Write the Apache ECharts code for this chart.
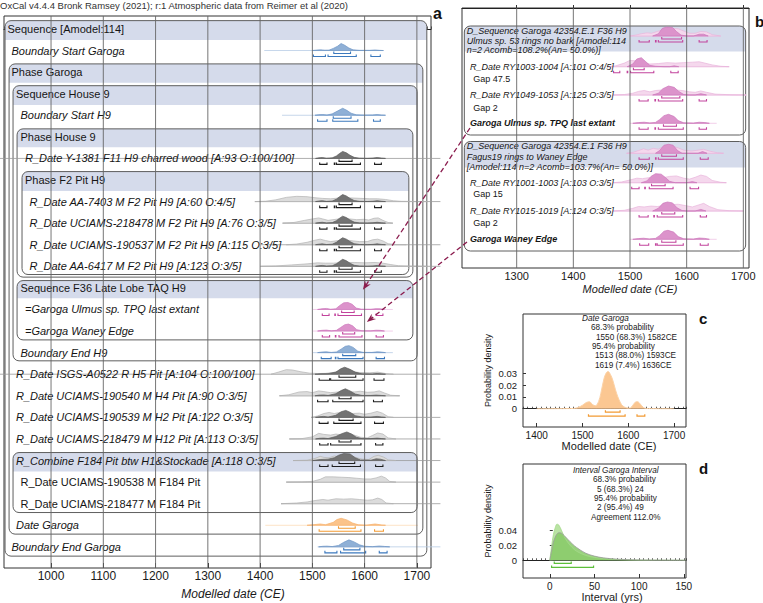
<!DOCTYPE html>
<html><head><meta charset="utf-8">
<script src="https://cdn.jsdelivr.net/npm/echarts@6/dist/echarts.min.js"></script>
<style>html,body{margin:0;padding:0;background:#fff}#c{width:763px;height:603px}</style>
</head><body><div id="c"></div>
<script>
// ================= DATA =================
const headerText = 'OxCal v4.4.4 Bronk Ramsey (2021); r:1 Atmospheric data from Reimer et al (2020)';
const aTicks = [1000, 1100, 1200, 1300, 1400, 1500, 1600, 1700];
const bTicks = [1300, 1400, 1500, 1600, 1700];
const cTicks = [1400, 1500, 1600, 1700];
const cYTicks = [0, 0.01, 0.02, 0.03];
const dTicks = [0, 50, 100, 150];
const dYTicks = [0, 0.02, 0.04];

// ---- panel a rows ----
const aLabels = [
  'Sequence [Amodel:114]', 'Boundary Start Garoga', 'Phase Garoga', 'Sequence House 9', 'Boundary Start H9',
  'Phase House 9', 'R_Date Y-1381 F11 H9 charred wood [A:93 O:100/100]', 'Phase F2 Pit H9',
  'R_Date AA-7403 M F2 Pit H9 [A:60 O:4/5]', 'R_Date UCIAMS-218478 M F2 Pit H9 [A:76 O:3/5]',
  'R_Date UCIAMS-190537 M F2 Pit H9 [A:115 O:3/5]', 'R_Date AA-6417 M F2 Pit H9 [A:123 O:3/5]',
  'Sequence F36 Late Lobe TAQ H9', '=Garoga Ulmus sp. TPQ last extant', '=Garoga Waney Edge', 'Boundary End H9',
  'R_Date ISGS-A0522 R H5 Pit [A:104 O:100/100]', 'R_Date UCIAMS-190540 M H4 Pit [A:90 O:3/5]',
  'R_Date UCIAMS-190539 M H2 Pit [A:122 O:3/5]', 'R_Date UCIAMS-218479 M H12 Pit [A:113 O:3/5]',
  'R_Combine F184 Pit btw H1&Stockade [A:118 O:3/5]', 'R_Date UCIAMS-190538 M F184 Pit',
  'R_Date UCIAMS-218477 M F184 Pit', 'Date Garoga', 'Boundary End Garoga'
];
const aTheme = [null, 'blue', null, null, 'blue', null, 'gray', null, 'gray', 'gray', 'gray', 'gray', null, 'pink', 'pink', 'blue',
  'gray', 'gray', 'gray', 'gray', 'gray', 'gray', 'gray', 'orange', 'blue'];
const aBase = [null, [1408, 1636], null, null, [1442, 1640], null, [902, 1745], null, [1390, 1745], [1443, 1654], [1402, 1745],
  [1402, 1745], null, [1501, 1654], [1501, 1654], [1501, 1654], [902, 1745], [1437, 1667], [1498, 1745], [1456, 1745],
  [1463, 1745], [1450, 1745], [1440, 1745], [1410, 1702], [1510, 1745]];

const postH9 = [[1506,0],[1512,0.08],[1519,0.13],[1527,0.03],[1538,0.08],[1546,0.35],[1552,0.7],[1558,1],[1565,0.8],[1572,0.45],[1580,0.15],[1590,0.04],[1605,0.01],[1616,0.05],[1624,0.13],[1632,0.05],[1640,0]];
const aPost = [
  null,
  [[1500,0],[1508,0.06],[1516,0.1],[1524,0.05],[1532,0.06],[1540,0.3],[1548,0.6],[1555,1],[1562,0.75],[1570,0.35],[1578,0.1],[1590,0.03],[1610,0.03],[1620,0.08],[1628,0.03],[1636,0]],
  null, null,
  [[1505,0],[1512,0.08],[1520,0.1],[1528,0.04],[1538,0.2],[1548,0.6],[1558,1],[1566,0.7],[1574,0.3],[1584,0.06],[1600,0.02],[1615,0.04],[1624,0.1],[1632,0.03],[1640,0]],
  null, postH9, null, postH9, postH9, postH9, postH9, null,
  [[1510,0],[1518,0.1],[1527,0.15],[1535,0.03],[1545,0.1],[1552,0.55],[1560,0.95],[1568,1],[1576,0.75],[1584,0.2],[1594,0.04],[1612,0.03],[1622,0.12],[1630,0.1],[1638,0]],
  [[1510,0],[1518,0.1],[1527,0.14],[1536,0.03],[1546,0.1],[1554,0.5],[1562,0.9],[1569,1],[1577,0.75],[1585,0.2],[1595,0.04],[1612,0.03],[1622,0.12],[1630,0.1],[1638,0]],
  [[1510,0],[1518,0.08],[1527,0.12],[1536,0.03],[1546,0.1],[1555,0.5],[1563,0.9],[1570,1],[1578,0.75],[1587,0.2],[1597,0.04],[1614,0.03],[1624,0.12],[1632,0.08],[1640,0]],
  [[1505,0],[1515,0.05],[1530,0.08],[1545,0.3],[1555,0.8],[1562,1],[1572,0.7],[1582,0.3],[1595,0.05],[1615,0.03],[1624,0.1],[1632,0.05],[1640,0]],
  [[1505,0],[1513,0.1],[1522,0.12],[1530,0.05],[1545,0.3],[1555,0.75],[1563,1],[1572,0.7],[1582,0.25],[1595,0.05],[1612,0.05],[1622,0.1],[1632,0.05],[1640,0]],
  [[1506,0],[1514,0.1],[1522,0.14],[1530,0.05],[1545,0.3],[1555,0.8],[1564,1],[1573,0.7],[1582,0.25],[1595,0.05],[1612,0.05],[1624,0.14],[1632,0.06],[1640,0]],
  [[1506,0],[1514,0.1],[1522,0.12],[1530,0.06],[1545,0.35],[1556,0.75],[1566,1],[1575,0.7],[1584,0.25],[1595,0.05],[1612,0.05],[1624,0.12],[1632,0.06],[1640,0]],
  [[1500,0],[1515,0.15],[1530,0.2],[1542,0.4],[1550,0.75],[1560,1],[1572,0.95],[1582,0.4],[1592,0.08],[1612,0.05],[1622,0.25],[1630,0.2],[1640,0]],
  null, null,
  [[1490,0],[1505,0.1],[1515,0.19],[1525,0.08],[1540,0.42],[1547,0.82],[1555,1],[1566,0.77],[1577,0.32],[1588,0.07],[1603,0.01],[1612,0.1],[1620,0.19],[1633,0.03],[1640,0]],
  [[1512,0],[1520,0.08],[1528,0.1],[1538,0.04],[1550,0.2],[1560,0.65],[1570,1],[1580,0.7],[1590,0.3],[1600,0.08],[1615,0.03],[1628,0.12],[1638,0.06],[1648,0]]
];
const aPrior = [
  null, null, null, null, null, null, null, null,
  [[1390,0],[1410,0.05],[1430,0.25],[1450,0.6],[1470,0.75],[1490,0.7],[1505,0.55],[1520,0.45],[1535,0.4],[1550,0.5],[1565,0.55],[1580,0.5],[1595,0.45],[1610,0.4],[1625,0.4],[1640,0.3],[1655,0.12],[1670,0.04],[1700,0.01],[1720,0]],
  [[1443,0],[1465,0.1],[1485,0.4],[1500,0.6],[1512,0.75],[1520,0.6],[1530,0.4],[1545,0.55],[1560,0.7],[1572,0.6],[1585,0.5],[1598,0.55],[1608,0.45],[1618,0.7],[1626,0.75],[1635,0.4],[1645,0.1],[1654,0]],
  [[1450,0],[1470,0.1],[1490,0.35],[1505,0.65],[1515,0.8],[1525,0.6],[1535,0.45],[1550,0.6],[1562,0.7],[1578,0.55],[1590,0.45],[1605,0.45],[1615,0.7],[1625,0.8],[1635,0.55],[1645,0.15],[1660,0.02],[1680,0]],
  [[1400,0],[1430,0.05],[1460,0.2],[1490,0.35],[1510,0.5],[1525,0.45],[1540,0.45],[1560,0.55],[1580,0.55],[1600,0.5],[1620,0.55],[1635,0.45],[1650,0.25],[1665,0.08],[1690,0.02],[1720,0]],
  null, null, null, null,
  [[1421,0],[1435,0.3],[1450,0.65],[1462,0.6],[1478,0.35],[1495,0.15],[1510,0.1],[1525,0.12],[1540,0.25],[1555,0.45],[1570,0.4],[1590,0.25],[1610,0.2],[1625,0.3],[1640,0.1],[1655,0]],
  [[1437,0],[1455,0.15],[1475,0.55],[1490,0.6],[1500,0.45],[1512,0.7],[1522,0.6],[1535,0.45],[1550,0.55],[1565,0.6],[1580,0.55],[1592,0.65],[1605,0.5],[1618,0.55],[1628,0.7],[1638,0.4],[1650,0.08],[1667,0]],
  [[1498,0],[1510,0.2],[1522,0.55],[1532,0.7],[1542,0.55],[1552,0.7],[1562,0.65],[1575,0.55],[1590,0.6],[1600,0.45],[1612,0.6],[1624,0.85],[1634,0.6],[1645,0.1],[1655,0]],
  [[1456,0],[1480,0.05],[1500,0.3],[1512,0.8],[1522,0.65],[1535,0.55],[1545,0.7],[1555,0.6],[1570,0.8],[1582,0.5],[1592,0.25],[1605,0.15],[1615,0.5],[1625,0.85],[1635,0.7],[1645,0.15],[1660,0]],
  [[1463,0],[1490,0.05],[1505,0.3],[1515,0.6],[1522,0.45],[1532,0.4],[1542,0.65],[1552,0.55],[1565,0.8],[1580,0.5],[1595,0.2],[1608,0.15],[1618,0.6],[1626,0.75],[1636,0.5],[1645,0.1],[1660,0]],
  [[1450,0],[1480,0.03],[1500,0.1],[1515,0.4],[1525,0.75],[1540,0.75],[1555,0.7],[1570,0.65],[1585,0.55],[1600,0.45],[1612,0.45],[1622,0.6],[1632,0.85],[1640,0.6],[1648,0.1],[1660,0]],
  [[1440,0],[1470,0.1],[1490,0.25],[1505,0.45],[1520,0.6],[1530,0.5],[1545,0.7],[1560,0.65],[1575,0.7],[1590,0.6],[1605,0.5],[1615,0.55],[1625,0.8],[1633,0.6],[1641,0.1],[1655,0]],
  null, null
];
const r68H9 = [[1551, 1576]];
const r95H9 = [[1514, 1528], [1542, 1543], [1546, 1592], [1619, 1632]];
const aR68 = [null, [[1541,1573]], null, null, [[1540,1574]], null, r68H9, null, r68H9, r68H9, r68H9, r68H9, null,
  [[1556,1580]], [[1558,1581]], [[1558,1583]], [[1551,1583]], [[1551,1574]], [[1551,1578]], [[1551,1574]], [[1551,1581]],
  null, null, [[1550,1582]], [[1560,1591]]];
const aR95 = [null, [[1502,1525],[1530,1584],[1612,1630]], null, null, [[1510,1528],[1539,1587],[1617,1630]], null,
  r95H9, null, r95H9, r95H9, r95H9, r95H9, null,
  [[1519,1532],[1543,1544],[1549,1594],[1622,1635]],
  [[1519,1533],[1544,1545],[1551,1595],[1622,1636]],
  [[1517,1536],[1544,1545],[1549,1597],[1622,1638]],
  [[1513,1533],[1535,1597],[1618,1637]],
  [[1510,1530],[1539,1597],[1617,1634]],
  [[1513,1530],[1541,1593],[1619,1636]],
  [[1514,1530],[1535,1593],[1621,1635]],
  [[1514,1530],[1538,1592],[1621,1635]],
  null, null,
  [[1513,1593],[1619,1636]],
  [[1524,1547],[1554,1602],[1628,1643]]];

// ---- panel b ----
const bLabels = ['D_Sequence Garoga 42354.E.1 F36 H9', 'Ulmus sp. 53 rings no bark [Amodel:114', 'n=2 Acomb=108.2%(An= 50.0%)]',
  'R_Date RY1003-1004 [A:101 O:4/5]', 'Gap 47.5', 'R_Date RY1049-1053 [A:125 O:3/5]', 'Gap 2', 'Garoga Ulmus sp. TPQ last extant',
  'D_Sequence Garoga 42354.E.1 F36 H9', 'Fagus19 rings to Waney Edge', '[Amodel:114 n=2 Acomb=103.7%(An= 50.0%)]',
  'R_Date RY1001-1003 [A:103 O:3/5]', 'Gap 15', 'R_Date RY1015-1019 [A:124 O:3/5]', 'Gap 2', 'Garoga Waney Edge'];
const bBase = [[1500,1660],[1460,1675],[1470,1705],[1500,1653],[1494,1665],[1470,1670],[1470,1700],[1500,1653]];
const bPrior = [
  [[1500,0],[1510,0.1],[1520,0.25],[1530,0.35],[1538,0.3],[1548,0.5],[1560,0.75],[1572,0.85],[1585,0.8],[1595,0.55],[1605,0.3],[1615,0.3],[1625,0.5],[1635,0.45],[1645,0.15],[1660,0]],
  [[1460,0],[1475,0.1],[1490,0.4],[1500,0.7],[1510,0.65],[1520,0.5],[1535,0.3],[1550,0.35],[1565,0.45],[1580,0.4],[1595,0.45],[1610,0.5],[1622,0.55],[1632,0.4],[1645,0.2],[1660,0.05],[1675,0]],
  [[1470,0],[1490,0.05],[1505,0.2],[1515,0.4],[1525,0.5],[1535,0.35],[1545,0.5],[1555,0.55],[1568,0.6],[1580,0.55],[1592,0.5],[1605,0.35],[1615,0.3],[1625,0.45],[1635,0.3],[1650,0.1],[1680,0.02],[1705,0]],
  null,
  [[1494,0],[1505,0.1],[1515,0.3],[1524,0.5],[1532,0.35],[1541,0.55],[1550,0.45],[1560,0.8],[1572,0.85],[1585,0.6],[1595,0.35],[1608,0.25],[1620,0.35],[1630,0.45],[1640,0.25],[1655,0.05],[1665,0]],
  [[1470,0],[1485,0.08],[1500,0.3],[1512,0.5],[1522,0.45],[1532,0.55],[1545,0.5],[1558,0.55],[1570,0.7],[1582,0.75],[1595,0.5],[1605,0.4],[1615,0.6],[1625,0.85],[1635,0.7],[1645,0.25],[1660,0.05],[1670,0]],
  [[1470,0],[1490,0.08],[1505,0.3],[1515,0.5],[1525,0.45],[1537,0.55],[1548,0.5],[1560,0.6],[1572,0.7],[1585,0.75],[1598,0.6],[1610,0.45],[1620,0.65],[1630,0.85],[1640,0.5],[1655,0.15],[1675,0.03],[1700,0]],
  null
];
const bPost = [
  [[1540,0],[1550,0.25],[1557,0.85],[1565,1],[1575,0.95],[1582,0.5],[1590,0.1],[1600,0],[1612,0],[1622,0.2],[1630,0.2],[1638,0]],
  [[1495,0],[1505,0.3],[1512,0.85],[1520,1],[1528,0.55],[1535,0.15],[1545,0.05],[1560,0],[1570,0],[1578,0.1],[1586,0]],
  [[1540,0],[1550,0.2],[1558,0.7],[1568,1],[1578,0.85],[1586,0.4],[1595,0.05],[1605,0],[1615,0],[1625,0.15],[1635,0]],
  [[1505,0],[1515,0.08],[1525,0.12],[1535,0.04],[1545,0.1],[1552,0.4],[1560,0.85],[1568,1],[1578,0.75],[1585,0.3],[1595,0.05],[1612,0.02],[1622,0.12],[1632,0.08],[1640,0]],
  [[1545,0],[1552,0.3],[1560,0.9],[1568,1],[1576,0.9],[1584,0.3],[1592,0],[1620,0],[1628,0.2],[1636,0]],
  [[1520,0],[1530,0.2],[1537,0.7],[1545,1],[1555,0.95],[1562,0.6],[1570,0.15],[1580,0],[1600,0],[1610,0.12],[1618,0]],
  [[1540,0],[1550,0.3],[1558,0.85],[1566,1],[1575,0.9],[1583,0.35],[1592,0.05],[1600,0],[1615,0],[1625,0.18],[1634,0]],
  [[1505,0],[1515,0.08],[1524,0.12],[1534,0.04],[1545,0.1],[1552,0.4],[1560,0.9],[1567,1],[1577,0.8],[1585,0.3],[1595,0.05],[1612,0.02],[1622,0.14],[1632,0.1],[1640,0]]
];
const bR68 = [[[1556,1591]], [[1506,1525]], [[1556,1588]], [[1559,1582]], [[1556,1582]], [[1538,1562]], [[1556,1579]], [[1556,1581]]];
const bR95 = [
  [[1516,1534],[1545,1546],[1550,1593],[1622,1636]],
  [[1471,1482],[1495,1496],[1501,1542],[1572,1585]],
  [[1516,1532],[1544,1545],[1550,1593],[1622,1635]],
  [[1516,1532],[1544,1545],[1550,1594],[1622,1635]],
  [[1516,1534],[1545,1546],[1550,1594],[1624,1638]],
  [[1503,1516],[1526,1527],[1534,1576],[1606,1621]],
  [[1516,1532],[1542,1543],[1548,1593],[1624,1635]],
  [[1517,1533],[1545,1546],[1548,1594],[1624,1638]]
];

// ---- panel c ----
const cDensity = [[1400,0],[1480,0.0002],[1490,0.001],[1500,0.003],[1508,0.0052],[1515,0.0059],[1522,0.0035],[1528,0.0025],[1535,0.006],[1540,0.013],[1547,0.0257],[1552,0.0305],[1556,0.0315],[1561,0.029],[1566,0.0243],[1572,0.016],[1577,0.0102],[1583,0.005],[1588,0.0023],[1596,0.0008],[1603,0.0005],[1610,0.003],[1615,0.0055],[1620,0.006],[1626,0.004],[1633,0.001],[1640,0.0002],[1700,0]];
const c68 = [[1550, 1582]];
const c95 = [[1513, 1593], [1619, 1636]];
const cSummary = ['Date Garoga', '68.3% probability', '1550 (68.3%) 1582CE', '95.4% probability', '1513 (88.0%) 1593CE', '1619 (7.4%) 1636CE'];

// ---- panel d ----
const dPrior = [[0,0],[2,0.018],[4,0.034],[6,0.043],[8,0.048],[10,0.047],[13,0.04],[16,0.032],[20,0.024],[25,0.017],[30,0.012],[40,0.0065],[50,0.0038],[60,0.0022],[75,0.001],[100,0.0003],[125,0.0001],[152,0]];
const dPost = [[0,0],[2,0.012],[4,0.024],[7,0.033],[10,0.0365],[13,0.036],[16,0.033],[20,0.028],[25,0.022],[30,0.017],[40,0.0095],[50,0.0055],[60,0.0032],[75,0.0015],[100,0.0004],[125,0.0001],[152,0]];
const d68 = [[5, 24]];
const d95 = [[2, 49]];
const dSummary = ['Interval Garoga Interval', '68.3% probability', '5 (68.3%) 24', '95.4% probability', '2 (95.4%) 49', 'Agreement 112.0%'];

// ---- arrows (from panel b [year,row] to panel a [year,row]) ----
const arrowFrom = [[1217.6, 12.0], [1212.3, 23.4]];
const arrowTo = [[1596.7, 12.09], [1604.3, 13.58]];

// ================= LAYOUT / STYLE =================
const FF = '"Liberation Sans", Arial, Helvetica, sans-serif';
const aRowStyle = ['n','i','n','n','i','n','i','n','i','i','i','i','n','i','i','i','i','i','i','i','i','n','n','i','i'];
const aIndent = [3.5, 7.5, 7.5, 12, 16.5, 16.5, 21, 21, 25.5, 25.5, 25.5, 25.5, 16.5, 21, 21, 16.5, 12, 12, 12, 12, 12, 16.5, 16.5, 12, 7.5];
// boxes: [x0, x1, rowTop, rowHeaderBottom, rowBottom]
const aBoxes = [
  [912, 1719, -0.385, 0.51, 24.43],
  [919.7, 1711.4, 1.62, 2.49, 23.41],
  [927.3, 1700.5, 2.63, 3.52, 15.38],
  [935, 1692.3, 4.63, 5.48, 11.5],
  [944.5, 1684.6, 6.61, 7.51, 11.38],
  [935, 1692.3, 11.66, 12.48, 14.41],
  [927.3, 1700.5, 19.63, 20.51, 22.41]
];
const bBoxes = [
  [1207.6, 1704.1, 1.8, 4.35, 12.7],
  [1207.6, 1704.1, 13.35, 15.95, 24.3]
];
const bLabelY = [2.3, 3.25, 4.2, 5.87, 7.13, 8.7, 9.97, 11.53, 13.8, 14.87, 15.87, 17.47, 18.63, 20.3, 21.47, 23.13];
const bLabelDX = [4.7, 4.7, 4.7, 8, 11.3, 8, 11.3, 8, 4.7, 4.7, 4.7, 8, 11.3, 8, 11.3, 8];
const bLabelStyle = ['i','i','i','i','n','i','n','bi','i','i','i','i','n','i','n','bi'];
const bDistY = [2.8, 5.87, 8.7, 11.53, 14.53, 17.47, 20.3, 23.13];
const bTheme = bDistY.map(() => 'pink');

const THEME = {
  gray:   {fill:'#737373', stroke:'#5c5c5c', prior:'#dcdcdc', priorStroke:'#b3b3b3', base:'#9a9a9a', br:'#1e1e1e'},
  blue:   {fill:'#8fb0d6', stroke:'#7097c6', prior:'#d4e1f0', priorStroke:'#b7cbe3', base:'#b8cce4', br:'#3c79bd'},
  pink:   {fill:'#dc93cb', stroke:'#cd78bb', prior:'#f5d8ed', priorStroke:'#e8b4db', base:'#efc3e4', br:'#c2449d'},
  orange: {fill:'#fbc38a', stroke:'#f6b26f', prior:'#fde3c6', priorStroke:'#fbd3a8', base:'#fcdcb8', br:'#f29a33'}
};
const HEADER_FILL = '#d5dbeb';

// ================= RENDERERS =================
function makeDistRender(theme, base, prior, post, r68, r95, H, o68, o95) {
  return function (params, api) {
    const i = api.value(2), row = api.value(1);
    const th = THEME[theme[i]];
    const y0 = api.coord([1500, row])[1];
    const X = v => api.coord([v, row])[0];
    const ch = [];
    const poly = (pts, fill, stroke) => ({type: 'polygon', shape: {points: pts.map(p => [X(p[0]), y0 - p[1] * H])},
      style: {fill: fill, stroke: stroke, lineWidth: 0.7}});
    if (base[i]) ch.push({type: 'line', shape: {x1: X(base[i][0]), y1: y0, x2: X(base[i][1]), y2: y0},
      style: {stroke: th.base, lineWidth: 0.8}});
    if (prior[i]) ch.push(poly(prior[i], th.prior, th.priorStroke));
    if (post[i]) ch.push(poly(post[i], th.fill, th.stroke));
    const br = (list, off) => (list || []).forEach(se => ch.push({type: 'polyline',
      shape: {points: [[X(se[0]), y0 + off - 2], [X(se[0]), y0 + off], [X(se[1]), y0 + off], [X(se[1]), y0 + off - 2]]},
      style: {stroke: th.br, lineWidth: 1.1, fill: 'none'}}));
    br(r68[i], o68); br(r95[i], o95);
    return {type: 'group', children: ch};
  };
}
function makeBoxRender(boxes) {
  return function (params, api) {
    const b = boxes[api.value(2)];
    const p0 = api.coord([b[0], b[2]]), p1 = api.coord([b[1], b[4]]), ph = api.coord([b[0], b[3]]);
    const x = p0[0], y = p0[1], w = p1[0] - p0[0], h = p1[1] - p0[1], hh = ph[1] - p0[1];
    return {type: 'group', children: [
      {type: 'rect', shape: {x: x, y: y, width: w, height: hh, r: [6, 6, 0, 0]}, style: {fill: HEADER_FILL}},
      {type: 'rect', shape: {x: x, y: y, width: w, height: h, r: 6}, style: {fill: 'none', stroke: '#5e5e5e', lineWidth: 1}}
    ]};
  };
}
function makeLabelRender(labels, dx, styles, size) {
  return function (params, api) {
    const i = api.value(2);
    const y = api.coord([1500, api.value(1)])[1];
    const s = styles[i];
    return {type: 'text', style: {text: labels[i], x: params.coordSys.x + dx[i], y: y,
      fill: '#151515', fontSize: size, fontFamily: FF, fontStyle: s.indexOf('i') >= 0 ? 'italic' : 'normal',
      fontWeight: s.indexOf('b') >= 0 ? 'bold' : 'normal', align: 'left', verticalAlign: 'middle'}};
  };
}
function gridLineRender(params, api) {
  const x = api.coord([api.value(0), 0])[0];
  const cs = params.coordSys;
  return {type: 'line', shape: {x1: x, y1: cs.y, x2: x, y2: cs.y + cs.height}, style: {stroke: '#666', lineWidth: 0.9}};
}
function makeBracketRender(color, o68, o95) {
  return function (params, api) {
    const s = api.value(0), e = api.value(1), lvl = api.value(2);
    const p0 = api.coord([s, 0]), p1 = api.coord([e, 0]);
    const yb = p0[1] + (lvl === 68 ? o68 : o95);
    return {type: 'polyline', shape: {points: [[p0[0], yb - 2], [p0[0], yb], [p1[0], yb], [p1[0], yb - 2]]},
      style: {stroke: color, lineWidth: 1.2, fill: 'none'}};
  };
}

// ================= OPTION =================
const txt = {fontFamily: FF, color: '#1a1a1a'};
const plain = v => String(v);
const gridBase = {show: true, borderColor: '#333', borderWidth: 1, backgroundColor: 'transparent', containLabel: false, outerBoundsMode: 'none'};
const aRows = aLabels.map((l, i) => [1500, i, i]);
const aDistRows = aLabels.map((l, i) => [1500, i, i]).filter(d => aTheme[d[2]]);
const bLabelRows = bLabels.map((l, i) => [1500, bLabelY[i], i]);
const bDistRows = bDistY.map((y, i) => [1500, y, i]);

const option = {
  animation: false,
  backgroundColor: '#fff',
  grid: [
    Object.assign({left: 4, top: 16, width: 427, height: 552}, gridBase),
    Object.assign({left: 462, top: 8, width: 287, height: 260}, gridBase),
    Object.assign({left: 523, top: 314, width: 163, height: 113}, gridBase),
    Object.assign({left: 523, top: 464, width: 163, height: 114}, gridBase)
  ],
  xAxis: [
    {gridIndex: 0, type: 'value', position: 'bottom', min: 910, max: 1727, interval: 10,
      axisLine: {lineStyle: {color: '#222'}}, axisTick: {inside: true, length: 2.5, lineStyle: {color: '#333', width: 0.8}},
      axisLabel: Object.assign({customValues: aTicks, fontSize: 12, margin: 2, formatter: plain}, txt), splitLine: {show: false},
      name: 'Modelled date (CE)', nameLocation: 'middle', nameGap: 20,
      nameTextStyle: Object.assign({fontSize: 12, fontStyle: 'italic', padding: [0, 0, 0, 31]}, txt)},
    {gridIndex: 0, type: 'value', position: 'bottom', min: 910, max: 1727, axisLine: {show: false},
      axisTick: {customValues: aTicks, inside: true, length: 5, lineStyle: {color: '#333'}}, axisLabel: {show: false}, splitLine: {show: false}},
    {gridIndex: 1, type: 'value', position: 'bottom', min: 1203.5, max: 1710,
      axisLine: {lineStyle: {color: '#222'}}, axisTick: {customValues: bTicks, inside: true, length: 3, lineStyle: {color: '#333'}},
      axisLabel: Object.assign({customValues: bTicks, fontSize: 11, margin: 2, formatter: plain}, txt), splitLine: {show: false},
      name: 'Modelled date (CE)', nameLocation: 'middle', nameGap: 15,
      nameTextStyle: Object.assign({fontSize: 11, fontStyle: 'italic', padding: [0, 0, 0, 49]}, txt)},
    {gridIndex: 2, type: 'value', position: 'bottom', min: 1370, max: 1726, interval: 10,
      axisLine: {lineStyle: {color: '#222'}}, axisTick: {inside: true, length: 2, lineStyle: {color: '#333', width: 0.8}},
      axisLabel: Object.assign({customValues: cTicks, fontSize: 10, margin: 3, formatter: plain}, txt), splitLine: {show: false},
      name: 'Modelled date (CE)', nameLocation: 'middle', nameGap: 13,
      nameTextStyle: Object.assign({fontSize: 11, padding: [0, 0, 0, 9]}, txt)},
    {gridIndex: 2, type: 'value', position: 'bottom', min: 1370, max: 1726, axisLine: {show: false},
      axisTick: {customValues: cTicks, inside: true, length: 4, lineStyle: {color: '#333'}}, axisLabel: {show: false}, splitLine: {show: false}},
    {gridIndex: 3, type: 'value', position: 'bottom', min: -30, max: 152.5, interval: 5,
      axisLine: {lineStyle: {color: '#222'}}, axisTick: {inside: true, length: 2, lineStyle: {color: '#333', width: 0.8}},
      axisLabel: Object.assign({customValues: dTicks, fontSize: 10, margin: 3, formatter: plain}, txt), splitLine: {show: false},
      name: 'Interval (yrs)', nameLocation: 'middle', nameGap: 12,
      nameTextStyle: Object.assign({fontSize: 11, padding: [0, 0, 0, 15]}, txt)},
    {gridIndex: 3, type: 'value', position: 'bottom', min: -30, max: 152.5, axisLine: {show: false},
      axisTick: {customValues: dTicks, inside: true, length: 4, lineStyle: {color: '#333'}}, axisLabel: {show: false}, splitLine: {show: false}}
  ],
  yAxis: [
    {gridIndex: 0, type: 'value', min: -0.6, max: 24.98, inverse: true, show: false},
    {gridIndex: 1, type: 'value', min: 0, max: 26, inverse: true, show: false},
    {gridIndex: 2, type: 'value', min: -0.0155, max: 0.0803, axisLine: {show: false},
      axisTick: {show: true, customValues: cYTicks, inside: true, length: 3, lineStyle: {color: '#333'}},
      axisLabel: Object.assign({customValues: cYTicks, fontSize: 9.5, margin: 6}, txt), splitLine: {show: false},
      name: 'Probability density', nameLocation: 'middle', nameGap: 31, nameRotate: 90,
      nameTextStyle: Object.assign({fontSize: 9}, txt)},
    {gridIndex: 3, type: 'value', min: -0.0236, max: 0.128, axisLine: {show: false},
      axisTick: {show: true, customValues: dYTicks, inside: true, length: 3, lineStyle: {color: '#333'}},
      axisLabel: Object.assign({customValues: dYTicks, fontSize: 9.5, margin: 6}, txt), splitLine: {show: false},
      name: 'Probability density', nameLocation: 'middle', nameGap: 31, nameRotate: 90,
      nameTextStyle: Object.assign({fontSize: 9}, txt)}
  ],
  series: [
    // panel a
    {type: 'custom', xAxisIndex: 0, yAxisIndex: 0, z: 1, clip: false, silent: true, data: aBoxes.map((b, i) => [1500, 0, i]), renderItem: makeBoxRender(aBoxes)},
    {type: 'custom', xAxisIndex: 0, yAxisIndex: 0, z: 2, clip: false, silent: true, data: aDistRows,
      renderItem: makeDistRender(aTheme, aBase, aPrior, aPost, aR68, aR95, 7, 3, 6)},
    {type: 'custom', xAxisIndex: 0, yAxisIndex: 0, z: 3, clip: false, silent: true, data: aRows,
      renderItem: makeLabelRender(aLabels, aIndent, aRowStyle, 11)},
    {type: 'custom', xAxisIndex: 0, yAxisIndex: 0, z: 4, clip: false, silent: true, data: aTicks.map(t => [t, 0]), renderItem: gridLineRender},
    // panel b
    {type: 'custom', xAxisIndex: 2, yAxisIndex: 1, z: 1, clip: false, silent: true, data: bBoxes.map((b, i) => [1500, 0, i]), renderItem: makeBoxRender(bBoxes)},
    {type: 'custom', xAxisIndex: 2, yAxisIndex: 1, z: 2, clip: false, silent: true, data: bDistRows,
      renderItem: makeDistRender(bTheme, bBase, bPrior, bPost, bR68, bR95, 9, 3, 6)},
    {type: 'custom', xAxisIndex: 2, yAxisIndex: 1, z: 3, clip: false, silent: true, data: bLabelRows,
      renderItem: makeLabelRender(bLabels, bLabelDX, bLabelStyle, 9)},
    {type: 'custom', xAxisIndex: 2, yAxisIndex: 1, z: 4, clip: false, silent: true, data: bTicks.map(t => [t, 0]), renderItem: gridLineRender},
    // panel c
    {type: 'line', xAxisIndex: 3, yAxisIndex: 2, data: cDensity, smooth: 0.35, showSymbol: false, silent: true,
      lineStyle: {color: '#fcd2a6', width: 1}, areaStyle: {color: '#fbc792', opacity: 1}},
    {type: 'custom', xAxisIndex: 3, yAxisIndex: 2, clip: false, silent: true,
      data: c68.map(r => [r[0], r[1], 68]).concat(c95.map(r => [r[0], r[1], 95])), renderItem: makeBracketRender('#f29a33', 3.5, 7.5)},
    // panel d
    {type: 'line', xAxisIndex: 5, yAxisIndex: 3, data: dPrior, smooth: 0.35, showSymbol: false, silent: true,
      lineStyle: {color: '#a5d98a', width: 0.8}, areaStyle: {color: '#b9e3a3', opacity: 1}},
    {type: 'line', xAxisIndex: 5, yAxisIndex: 3, data: dPost, smooth: 0.35, showSymbol: false, silent: true,
      lineStyle: {color: '#9a9a9a', width: 0.8}, areaStyle: {color: '#86c966', opacity: 0.85}},
    {type: 'custom', xAxisIndex: 5, yAxisIndex: 3, clip: false, silent: true,
      data: d68.map(r => [r[0], r[1], 68]).concat(d95.map(r => [r[0], r[1], 95])), renderItem: makeBracketRender('#5cbf3a', 3.2, 7.2)}
  ]
};

const chart = echarts.init(document.getElementById('c'), null, {renderer: 'svg', width: 763, height: 603});
chart.setOption(option);

// ---- annotations ----
const graphics = [];
graphics.push({type: 'text', x: 0, y: 5.5, z: 10, silent: true,
  style: {text: headerText, fontSize: 9.5, fontFamily: FF, fill: '#333', verticalAlign: 'middle'}});
[['a', 433, 13, 16], ['b', 755, 21, 15], ['c', 699, 318.7, 15], ['d', 699, 468.7, 15]].forEach(l => graphics.push(
  {type: 'text', x: l[1], y: l[2], z: 10, silent: true,
   style: {text: l[0], fontSize: l[3], fontWeight: 'bold', fontFamily: FF, fill: '#111', verticalAlign: 'middle'}}));
const cSumX = [582, 591, 596, 592, 595, 595], cSumY = [318.5, 327.8, 337.1, 346.4, 355.7, 365];
const dSumX = [573, 593, 597, 594, 597, 591], dSumY = [470.5, 479.8, 489.1, 498.4, 507.7, 517];
const sumStyle = (t, i) => ({text: t, fontSize: 8.2, lineHeight: 8.2, fontStyle: i === 0 ? 'italic' : 'normal',
  fontFamily: FF, fill: '#1a1a1a', verticalAlign: 'middle'});
cSummary.forEach((t, i) => graphics.push({type: 'text', x: cSumX[i], y: cSumY[i], z: 10, silent: true, style: sumStyle(t, i)}));
dSummary.forEach((t, i) => graphics.push({type: 'text', x: dSumX[i], y: dSumY[i], z: 10, silent: true, style: sumStyle(t, i)}));
arrowFrom.forEach((f, k) => {
  const p0 = chart.convertToPixel({gridIndex: 1}, f);
  const p1 = chart.convertToPixel({gridIndex: 0}, arrowTo[k]);
  const dx = p1[0] - p0[0], dy = p1[1] - p0[1], L = Math.hypot(dx, dy);
  const ux = dx / L, uy = dy / L, nx = -uy, ny = ux;
  const col = '#8b1c4e';
  graphics.push({type: 'line', z: 20, silent: true, shape: {x1: p0[0], y1: p0[1], x2: p1[0] - ux * 5, y2: p1[1] - uy * 5},
    style: {stroke: col, lineWidth: 1.3, lineDash: [5, 3]}});
  graphics.push({type: 'polygon', z: 20, silent: true, shape: {points: [
    [p1[0], p1[1]],
    [p1[0] - ux * 9 + nx * 3.5, p1[1] - uy * 9 + ny * 3.5],
    [p1[0] - ux * 6, p1[1] - uy * 6],
    [p1[0] - ux * 9 - nx * 3.5, p1[1] - uy * 9 - ny * 3.5]]}, style: {fill: col}});
});
chart.setOption({graphic: graphics});
</script>
</body></html>
